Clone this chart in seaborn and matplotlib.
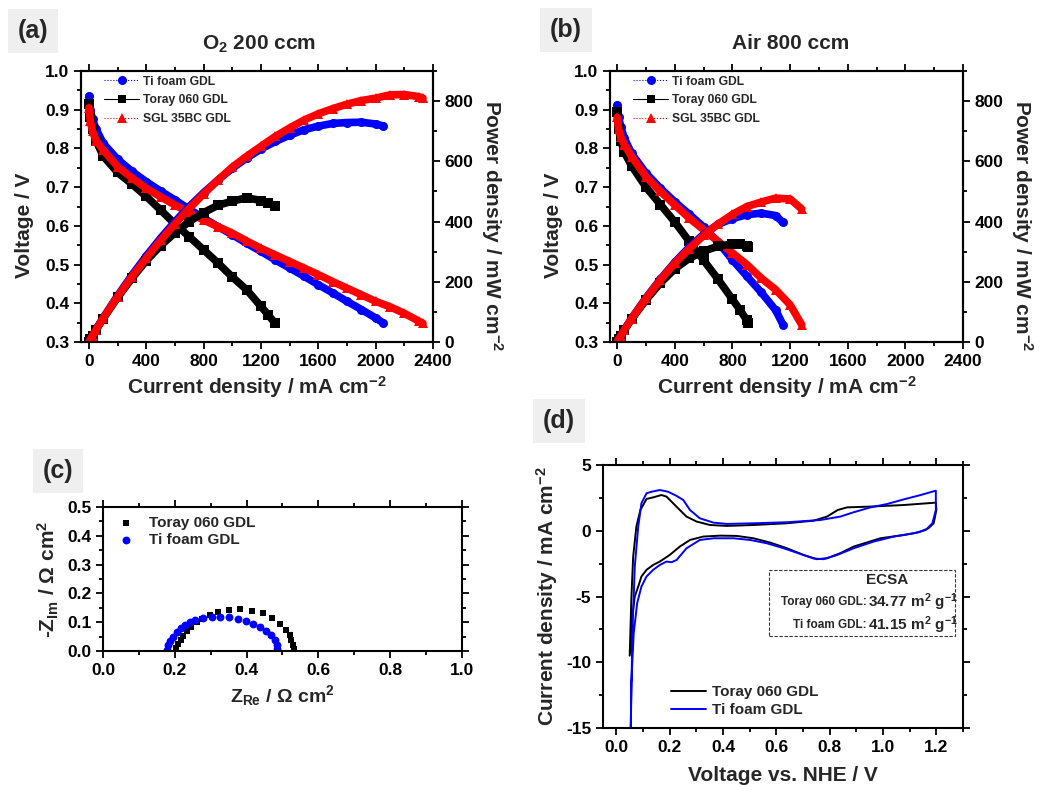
import matplotlib
matplotlib.use('Agg')
import matplotlib.pyplot as plt
import seaborn as sns
from matplotlib.lines import Line2D
from matplotlib.patches import Rectangle
from matplotlib.ticker import MultipleLocator

# ---------------- (a) O2 200 ccm ----------------
a_ti_cur = [0, 10, 25, 50, 100, 200, 300, 400, 500, 600, 700, 800, 900, 1000, 1100, 1200,
            1300, 1400, 1500, 1600, 1700, 1800, 1900, 2000, 2050]
a_ti_volt = [0.935, 0.900, 0.875, 0.850, 0.813, 0.772, 0.741, 0.714, 0.690, 0.667, 0.643, 0.620,
             0.598, 0.577, 0.555, 0.534, 0.512, 0.491, 0.470, 0.448, 0.427, 0.405, 0.384, 0.362, 0.350]
a_ti_pow = [0, 9, 22, 43, 81, 154, 222, 286, 345, 400, 450, 496, 538, 577, 611, 641, 666, 687,
            705, 717, 726, 729, 730, 724, 718]

a_toray_cur = [0, 10, 25, 50, 100, 200, 300, 400, 500, 600, 700, 800, 900, 1000, 1100, 1200, 1250, 1300]
a_toray_volt = [0.915, 0.880, 0.850, 0.820, 0.780, 0.738, 0.708, 0.676, 0.641, 0.605, 0.572, 0.538,
                0.504, 0.468, 0.435, 0.392, 0.370, 0.348]
a_toray_pow = [0, 9, 21, 41, 78, 148, 212, 270, 320, 363, 400, 430, 454, 468, 479, 470, 463, 452]

a_sgl_cur = [0, 10, 25, 50, 100, 200, 300, 400, 500, 600, 700, 800, 900, 1000, 1100, 1200, 1300,
             1400, 1500, 1600, 1700, 1800, 1900, 2000, 2100, 2200, 2300, 2330]
a_sgl_volt = [0.905, 0.870, 0.845, 0.820, 0.796, 0.753, 0.724, 0.697, 0.675, 0.654, 0.634, 0.615,
              0.598, 0.581, 0.561, 0.542, 0.525, 0.508, 0.491, 0.474, 0.456, 0.439, 0.422, 0.405,
              0.391, 0.374, 0.354, 0.348]
a_sgl_pow = [0, 9, 21, 41, 80, 151, 217, 279, 338, 392, 444, 492, 538, 581, 617, 650, 683, 711,
             737, 758, 775, 790, 802, 810, 821, 822, 815, 810]

# ---------------- (b) Air 800 ccm ----------------
b_ti_cur = [0, 10, 25, 50, 100, 200, 300, 400, 500, 600, 700, 800, 900, 1000, 1100, 1150]
b_ti_volt = [0.912, 0.880, 0.856, 0.826, 0.787, 0.736, 0.697, 0.662, 0.630, 0.597, 0.558, 0.512,
             0.470, 0.428, 0.382, 0.345]
b_ti_pow = [0, 9, 21, 41, 79, 147, 209, 265, 315, 358, 391, 410, 423, 428, 420, 397]

b_toray_cur = [0, 10, 25, 50, 100, 200, 300, 400, 500, 600, 700, 800, 850, 900, 910]
b_toray_volt = [0.895, 0.850, 0.820, 0.790, 0.755, 0.700, 0.655, 0.610, 0.560, 0.511, 0.462, 0.410,
                0.384, 0.356, 0.348]
b_toray_pow = [0, 9, 21, 40, 76, 140, 196, 243, 278, 302, 318, 326, 326, 320, 316]

b_sgl_cur = [0, 10, 25, 50, 100, 200, 300, 400, 500, 600, 700, 800, 900, 1000, 1100, 1200, 1280]
b_sgl_volt = [0.880, 0.850, 0.830, 0.810, 0.779, 0.727, 0.689, 0.654, 0.620, 0.590, 0.560, 0.530,
              0.500, 0.465, 0.435, 0.396, 0.345]
b_sgl_pow = [0, 9, 21, 41, 78, 145, 207, 262, 310, 354, 392, 424, 450, 465, 478, 475, 442]

# ---------------- (c) Nyquist ----------------
c_toray_re = [0.204, 0.209, 0.216, 0.223, 0.233, 0.246, 0.261, 0.277, 0.298, 0.320, 0.351, 0.382,
              0.414, 0.446, 0.472, 0.493, 0.509, 0.520, 0.525, 0.529, 0.531]
c_toray_im = [0.009, 0.024, 0.038, 0.052, 0.071, 0.085, 0.099, 0.110, 0.125, 0.136, 0.143, 0.146,
              0.140, 0.131, 0.113, 0.094, 0.073, 0.056, 0.038, 0.021, 0.006]
c_ti_re = [0.177, 0.182, 0.188, 0.196, 0.205, 0.216, 0.228, 0.242, 0.257, 0.278, 0.303, 0.326,
           0.352, 0.375, 0.398, 0.419, 0.438, 0.455, 0.469, 0.479, 0.484, 0.486]
c_ti_im = [0.003, 0.020, 0.035, 0.050, 0.065, 0.079, 0.092, 0.100, 0.108, 0.114, 0.119, 0.119,
           0.117, 0.110, 0.103, 0.094, 0.082, 0.070, 0.056, 0.038, 0.021, 0.006]

# ---------------- (d) cyclic voltammetry ----------------
d_toray_v = [0.050, 0.056, 0.063, 0.075, 0.090, 0.113, 0.138, 0.169, 0.188, 0.213, 0.238, 0.263,
             0.301, 0.351, 0.414, 0.514, 0.640, 0.740, 0.790, 0.830, 0.865, 0.953, 1.078, 1.198,
             1.200, 1.190, 1.170, 1.135, 1.078, 0.990, 0.890, 0.840, 0.790, 0.752, 0.702, 0.640,
             0.577, 0.514, 0.451, 0.389, 0.326, 0.276, 0.238, 0.200, 0.163, 0.138, 0.113, 0.094,
             0.082, 0.069, 0.060, 0.054]
d_toray_j = [-9.50, -5.25, -1.96, 0.32, 1.58, 2.42, 2.54, 2.72, 2.60, 2.09, 1.58, 1.08,
             0.70, 0.44, 0.37, 0.44, 0.57, 0.77, 1.08, 1.58, 1.78, 1.84, 1.96, 2.14,
             1.60, 0.57, 0.19, -0.11, -0.32, -0.57, -1.20, -1.70, -2.09, -2.16, -1.84, -1.33,
             -0.90, -0.57, -0.39, -0.37, -0.44, -0.70, -1.20, -1.84, -2.34, -2.60, -2.97, -3.48,
             -4.24, -5.00, -6.50, -9.30]
d_ti_v = [0.054, 0.060, 0.069, 0.082, 0.094, 0.113, 0.132, 0.163, 0.194, 0.226, 0.251, 0.276,
          0.313, 0.364, 0.414, 0.514, 0.640, 0.765, 0.840, 0.890, 0.953, 1.016, 1.078, 1.141,
          1.198, 1.198, 1.185, 1.160, 1.116, 1.041, 0.965, 0.890, 0.828, 0.777, 0.740, 0.690,
          0.627, 0.564, 0.502, 0.439, 0.364, 0.313, 0.263, 0.226, 0.207, 0.188, 0.163, 0.138,
          0.113, 0.094, 0.078, 0.065, 0.056, 0.054]
d_ti_j = [-15.0, -7.80, -2.72, 0.32, 2.09, 2.85, 2.97, 3.10, 2.97, 2.65, 2.34, 1.58,
          0.95, 0.62, 0.52, 0.57, 0.65, 0.82, 1.08, 1.41, 1.78, 2.04, 2.39, 2.72,
          3.05, 1.58, 0.57, 0.06, -0.19, -0.44, -0.82, -1.33, -1.84, -2.16, -2.11, -1.76,
          -1.33, -0.95, -0.70, -0.57, -0.57, -0.70, -1.33, -2.22, -2.39, -2.34, -2.60, -2.97,
          -3.48, -4.24, -5.50, -7.80, -11.6, -15.0]

labels3 = ['Ti foam GDL', 'Toray 060 GDL', 'SGL 35BC GDL']
ecsa_toray = 34.77
ecsa_ti = 41.15

sns.set_style('ticks')
plt.rcParams['font.family'] = ['Liberation Sans', 'DejaVu Sans']
plt.rcParams['font.weight'] = 'bold'
plt.rcParams['axes.labelweight'] = 'bold'
plt.rcParams['axes.unicode_minus'] = False
plt.rcParams['mathtext.fontset'] = 'custom'
plt.rcParams['mathtext.rm'] = 'Liberation Sans:bold'
plt.rcParams['mathtext.it'] = 'Liberation Sans:bold'
plt.rcParams['mathtext.bf'] = 'Liberation Sans:bold'
plt.rcParams['axes.linewidth'] = 1.5


def style_axis(ax, top=True, right=True):
    ax.tick_params(which='both', direction='out', width=1.3, top=top, right=right,
                   labelsize=12.5, colors='black')
    ax.tick_params(which='major', length=5)
    ax.tick_params(which='minor', length=3)
    for sp in ax.spines.values():
        sp.set_visible(True)
        sp.set_linewidth(1.5)
        sp.set_color('black')


def plot_polarization(ax, series, xlim0):
    ax2 = ax.twinx()
    for cur, volt, power, color, marker in series:
        sns.lineplot(x=cur, y=volt, ax=ax, color=color, lw=5.5, marker=marker, ms=6.5,
                     mew=0, estimator=None, legend=False)
        sns.lineplot(x=cur, y=power, ax=ax2, color=color, lw=5.5, marker=marker, ms=6.5,
                     mew=0, estimator=None, legend=False)
    ax.set_xlim(xlim0, 2400)
    ax.set_ylim(0.3, 1.0)
    ax2.set_ylim(0, 900)
    ax.xaxis.set_major_locator(MultipleLocator(400))
    ax.xaxis.set_minor_locator(MultipleLocator(200))
    ax.yaxis.set_major_locator(MultipleLocator(0.1))
    ax.yaxis.set_minor_locator(MultipleLocator(0.05))
    ax2.yaxis.set_major_locator(MultipleLocator(200))
    ax2.yaxis.set_minor_locator(MultipleLocator(100))
    style_axis(ax, top=True, right=False)
    style_axis(ax2, top=False, right=True)
    ax.set_xlabel('Current density / mA cm$^{-2}$', fontsize=15, labelpad=4)
    ax.set_ylabel('Voltage / V', fontsize=15, labelpad=8)
    ax.yaxis.label.set_y(0.43)
    ax2.set_ylabel('Power density / mW cm$^{-2}$', fontsize=15, rotation=270, labelpad=22)
    ax2.yaxis.label.set_y(0.43)
    handles = [
        Line2D([], [], color='blue', ls=':', lw=0.8, marker='o', ms=6.5, mew=0),
        Line2D([], [], color='black', ls='-', lw=0.8, marker='s', ms=6, mew=0),
        Line2D([], [], color='red', ls=':', lw=0.8, marker='^', ms=7, mew=0),
    ]
    ax.legend(handles, labels3, loc='upper left', bbox_to_anchor=(0.045, 1.01), frameon=False,
              fontsize=8.7, handlelength=2.9, handletextpad=0.3, labelspacing=0.55,
              borderaxespad=0.2)


fig = plt.figure(figsize=(10.39, 7.85), dpi=100)

# (a)
ax_a = fig.add_axes([0.078, 0.5643, 0.3388, 0.3452])
plot_polarization(ax_a, [
    (a_ti_cur, a_ti_volt, a_ti_pow, 'blue', 'o'),
    (a_toray_cur, a_toray_volt, a_toray_pow, 'black', 's'),
    (a_sgl_cur, a_sgl_volt, a_sgl_pow, 'red', '^'),
], -55)
fig.text(0.249, 0.944, 'O$_2$ 200 ccm', fontsize=15, ha='center', va='center')

# (b)
ax_b = fig.add_axes([0.5871, 0.5643, 0.3398, 0.3452])
plot_polarization(ax_b, [
    (b_ti_cur, b_ti_volt, b_ti_pow, 'blue', 'o'),
    (b_toray_cur, b_toray_volt, b_toray_pow, 'black', 's'),
    (b_sgl_cur, b_sgl_volt, b_sgl_pow, 'red', '^'),
], -50)
fig.text(0.761, 0.944, 'Air 800 ccm', fontsize=15, ha='center', va='center')

# (c)
ax_c = fig.add_axes([0.0991, 0.1707, 0.3455, 0.1834])
sns.scatterplot(x=c_toray_re, y=c_toray_im, ax=ax_c, color='black', marker='s', s=22,
                linewidth=0, label='Toray 060 GDL')
sns.scatterplot(x=c_ti_re, y=c_ti_im, ax=ax_c, color='blue', marker='o', s=32,
                linewidth=0, label='Ti foam GDL')
ax_c.set_xlim(0, 1.0)
ax_c.set_ylim(0, 0.5)
ax_c.xaxis.set_major_locator(MultipleLocator(0.2))
ax_c.xaxis.set_minor_locator(MultipleLocator(0.1))
ax_c.yaxis.set_major_locator(MultipleLocator(0.1))
ax_c.yaxis.set_minor_locator(MultipleLocator(0.05))
style_axis(ax_c)
ax_c.set_xlabel('Z$_{\\rm Re}$ / \u03a9 cm$^2$', fontsize=14, labelpad=4)
ax_c.set_ylabel('-Z$_{\\rm Im}$ / \u03a9 cm$^2$', fontsize=15, labelpad=4)
ax_c.legend(loc='upper left', bbox_to_anchor=(-0.005, 1.0), frameon=False, fontsize=11,
            handletextpad=0.5, labelspacing=0.2, borderaxespad=0.2)

# (d)
ax_d = fig.add_axes([0.5804, 0.0726, 0.3465, 0.335])
sns.lineplot(x=d_toray_v, y=d_toray_j, ax=ax_d, color='black', lw=1.4, sort=False,
             estimator=None, label='Toray 060 GDL')
sns.lineplot(x=d_ti_v, y=d_ti_j, ax=ax_d, color='blue', lw=1.4, sort=False,
             estimator=None, label='Ti foam GDL')
ax_d.set_xlim(-0.05, 1.3)
ax_d.set_ylim(-15, 5)
ax_d.xaxis.set_major_locator(MultipleLocator(0.2))
ax_d.xaxis.set_minor_locator(MultipleLocator(0.1))
ax_d.yaxis.set_major_locator(MultipleLocator(5))
ax_d.yaxis.set_minor_locator(MultipleLocator(2.5))
style_axis(ax_d)
ax_d.set_xlabel('Voltage vs. NHE / V', fontsize=15, labelpad=8)
ax_d.set_ylabel('Current density / mA cm$^{-2}$', fontsize=15, labelpad=4)
ax_d.legend(loc='lower left', bbox_to_anchor=(0.15, -0.01), frameon=False, fontsize=11,
            handlelength=2.3, handletextpad=0.4, labelspacing=0.25)
ax_d.add_patch(Rectangle((0.574, -8.0), 1.269 - 0.574, 5.03, fill=False, ls=(0, (3, 1.5)),
                         lw=0.8, edgecolor='#333333'))
ax_d.text(1.016, -3.73, 'ECSA', fontsize=11, ha='center', va='center')
ax_d.text(0.94, -5.43, 'Toray 060 GDL:', fontsize=8.5, ha='right', va='center')
ax_d.text(0.945, -5.43, f'{ecsa_toray:.2f} m$^2$ g$^{{-1}}$', fontsize=11, ha='left', va='center')
ax_d.text(0.94, -7.15, 'Ti foam GDL:', fontsize=8.5, ha='right', va='center')
ax_d.text(0.945, -7.15, f'{ecsa_ti:.2f} m$^2$ g$^{{-1}}$', fontsize=11, ha='left', va='center')

# panel labels
for lbl, x, y in [('(a)', 33, 31), ('(b)', 566, 30), ('(c)', 58, 471), ('(d)', 559, 421)]:
    fig.text(x / 1039, 1 - y / 785, lbl, fontsize=18, ha='center', va='center',
             bbox=dict(facecolor='#efefef', edgecolor='none', boxstyle='square,pad=0.4'))

fig.savefig('out.png', dpi=100)
